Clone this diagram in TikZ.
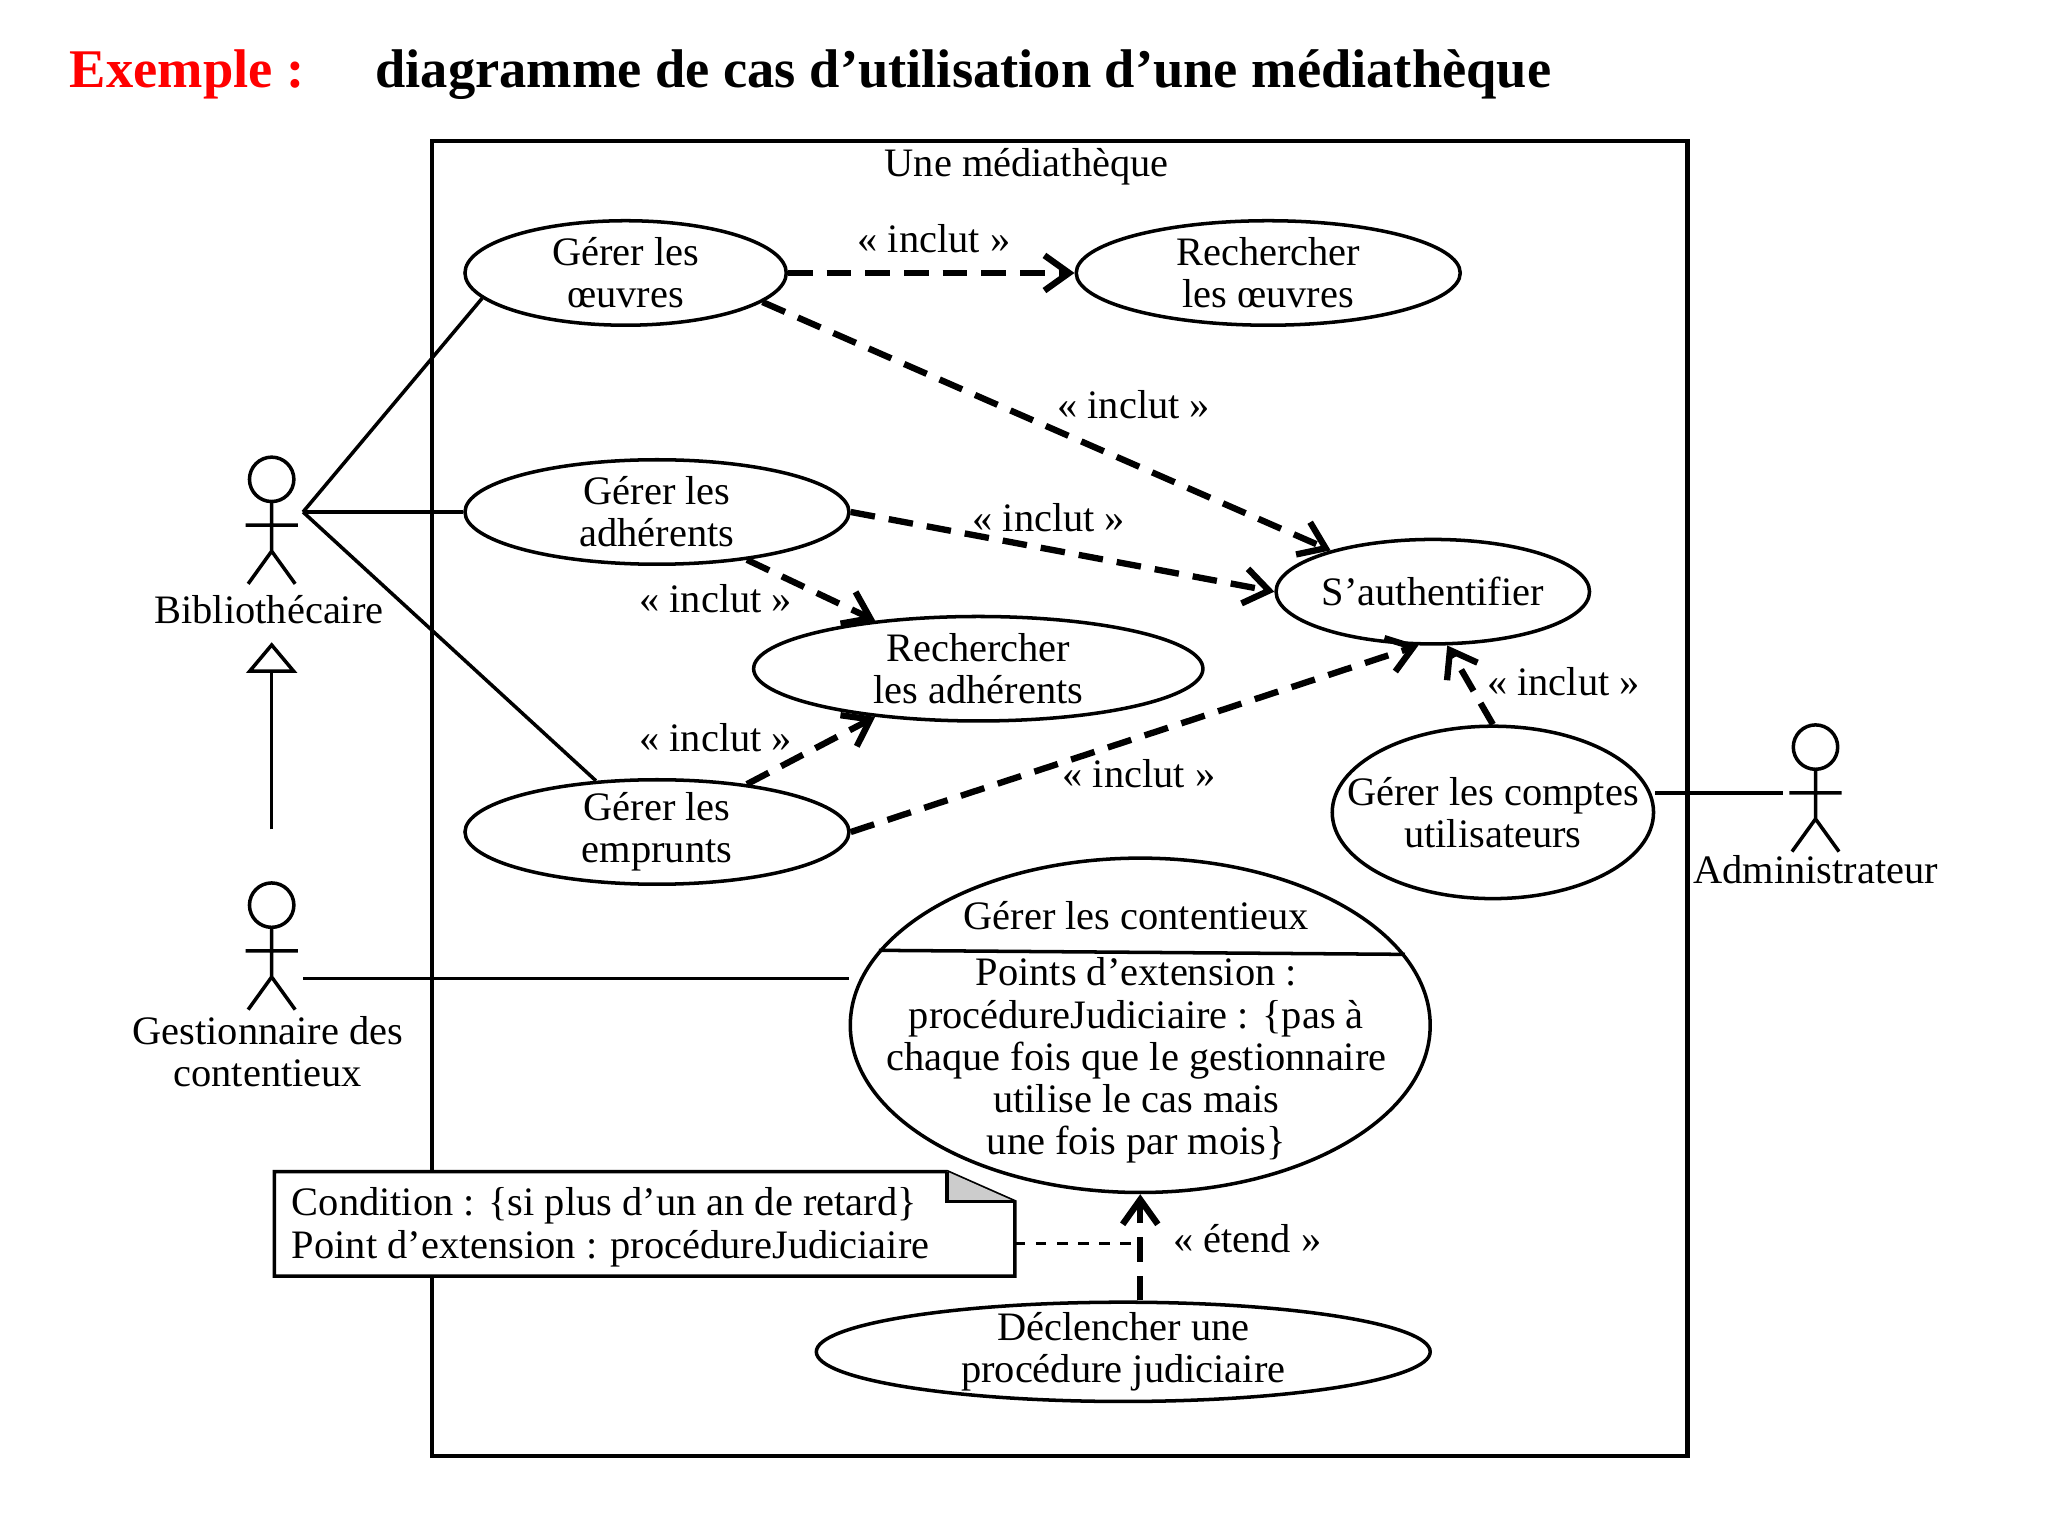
\documentclass[tikz,border=0pt]{standalone}
\usepackage{fontspec}
\setmainfont{Liberation Serif}
\usetikzlibrary{shapes.geometric,arrows.meta}
\def\U{0.01306cm}
\tikzset{
 ucs/.style={draw,ellipse,line width=1pt,inner sep=0pt},
 inc/.style={line width=1.8pt,dash pattern=on 7pt off 4pt,-{Straight Barb[length=7pt,width=10pt,line width=1.8pt]}},
 lbl/.style={font=\fontsize{11.5}{12}\selectfont,align=center},
 assoc/.style={line width=1pt},
}
\newcommand\uc[6]{%
 \node[ucs,minimum width=#4*\U,minimum height=#5*\U] (#1) at (#2,#3) {};
 \node[lbl] (#1t) at (#2,#3) {#6};}
\newcommand\actor[2]{%
 \draw[line width=1pt] (#1,#2) circle[radius=17];
 \draw[line width=1pt] (#1,#2+17) -- (#1,#2+55) (#1-20,#2+35) -- (#1+20,#2+35)
   (#1-18,#2+80) -- (#1,#2+55) -- (#1+18,#2+80);}
\begin{document}
\begin{tikzpicture}[x=0.01306cm,y=-0.01306cm]
\useasboundingbox (0,0) rectangle (1568,1176);
\node[font=\fontsize{15.5}{18}\selectfont\bfseries,text=red,anchor=west,inner sep=0pt] (ex) at (53,57) {Exemple :};
\node[font=\fontsize{15.5}{18}\selectfont\bfseries,anchor=west,inner sep=0pt] (ti) at (287,57) {diagramme de cas d’utilisation d’une médiathèque};
\draw[line width=1.2pt] (331,108) rectangle (1292,1115);
\node[lbl] (sys) at (786,128) {Une médiathèque};
% use cases
\uc{go}{479}{209}{246}{80}{Gérer les\\œuvres}
\uc{ro}{971}{209}{294}{80}{Rechercher\\les œuvres}
\uc{ad}{503}{392}{294}{80}{Gérer les\\adhérents}
\uc{au}{1097}{453}{240}{80}{S’authentifier}
\uc{ra}{749}{512}{344}{80}{Rechercher\\les adhérents}
\uc{em}{503}{637}{294}{80}{Gérer les\\emprunts}
\uc{cp}{1143}{622}{246}{132}{Gérer les comptes\\utilisateurs}
\uc{ct}{873}{785}{444}{256}{}
\node[lbl] (ctt) at (870,701) {Gérer les contentieux};
\draw[line width=1pt] (ct.164.4) -- (ct.15.6);
\node[lbl] (ctb) at (870,812) {Points d’extension :\\procédureJudiciaire : \{pas à\\chaque fois que le gestionnaire\\utilise le cas mais\\une fois par mois\}};
\uc{dp}{860}{1035}{470}{76}{Déclencher une\\procédure judiciaire}
% actors
\actor{208}{367}
\node[lbl] (bl) at (206,467) {Bibliothécaire};
\actor{208}{693}
\node[lbl] (gl) at (205,805) {Gestionnaire des\\contentieux};
\actor{1390}{572}
\node[lbl] (al) at (1390,666) {Administrateur};
\coordinate (bib) at (232,392);
\coordinate (ges) at (232,749);
\coordinate (adm) at (1365,607);
\coordinate (gtop) at (208,635);
\node[draw,line width=1pt,isosceles triangle,shape border rotate=90,isosceles triangle apex angle=80,minimum height=20*\U,inner sep=0pt] (tri) at (208,506) {};
\draw[line width=1pt] (gtop) -- (tri.south);
% associations
\draw[assoc] (bib) -- (go.190);
\draw[assoc] (bib) -- (ad.west);
\draw[assoc] (bib) -- (em.140);
\draw[assoc] (ges) -- (ct.west |- ges);
\draw[assoc] (adm) -- (cp.east |- adm);
% includes
\draw[inc] (go.east) -- (ro.west);
\node[lbl] (l1) at (715,183) {« inclut »};
\draw[inc] (go.-12) -- (au.158);
\node[lbl] (l2) at (868,310) {« inclut »};
\draw[inc] (ad.east) -- (au.west);
\node[lbl] (l3) at (803,396) {« inclut »};
\draw[inc] (ad.-28) -- (ra.155);
\node[lbl] (l4) at (548,458) {« inclut »};
\draw[inc] (em.28) -- (ra.-155);
\node[lbl] (l5) at (548,565) {« inclut »};
\draw[inc] (em.east) -- (au.-105);
\node[lbl] (l6) at (872,592) {« inclut »};
\draw[inc] (cp.north) -- (au.-75);
\node[lbl] (l7) at (1197,522) {« inclut »};
\draw[inc] (dp.north -| ct.south) -- (ct.south);
\node[lbl] (l8) at (955,948) {« étend »};
% note
\draw[line width=1pt,fill=white] (210,897) -- (725,897) -- (777,920) -- (777,977) -- (210,977) -- cycle;
\fill[gray!40] (725,897) -- (777,920) -- (725,920) -- cycle;
\draw[line width=1pt] (725,897) -- (725,920) -- (777,920);
\node[lbl,align=left,anchor=north west] (note) at (214,900) {Condition : \{si plus d’un an de retard\}\\Point d’extension : procédureJudiciaire};
\coordinate (nr) at (777,952);
\draw[line width=1pt,dashed] (nr) -- (873,952);
\end{tikzpicture}
\end{document}
